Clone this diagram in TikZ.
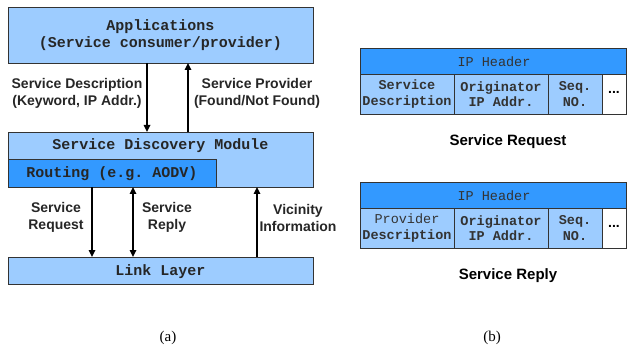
\documentclass[tikz,border=0pt]{standalone}
\usepackage{fontspec}
\setmainfont{Liberation Serif}
\setsansfont{Liberation Sans}
\setmonofont{Liberation Mono}
\usetikzlibrary{arrows.meta}
\definecolor{lightb}{HTML}{9DCCFF}
\definecolor{darkb}{HTML}{3399FF}
\definecolor{bordr}{HTML}{333333}
\tikzset{
  layerbox/.style={draw=bordr, line width=0.9pt, fill=lightb},
  darkbox/.style={draw=bordr, line width=0.9pt, fill=darkb},
  cell/.style={draw=bordr, line width=0.9pt, fill=lightb},
  monobig/.style={font=\fontsize{15}{17}\selectfont\ttfamily\bfseries, text=black!85},
  monosmall/.style={font=\fontsize{13.5}{15.5}\selectfont\ttfamily, text=black!80, align=center},
  lbl/.style={font=\fontsize{14}{17}\selectfont\sffamily\bfseries, text=black!85, align=center},
  captxt/.style={font=\fontsize{15}{17}\selectfont\sffamily\bfseries, text=black},
  arr/.style={line width=1.6pt, -{Triangle[length=7pt,width=6.5pt]}},
  darr/.style={line width=1.6pt, {Triangle[length=7pt,width=6.5pt]}-{Triangle[length=7pt,width=6.5pt]}},
  subtxt/.style={font=\fontsize{15}{17}\selectfont\rmfamily}
}
\begin{document}
\begin{tikzpicture}[x=1pt,y=-1pt]
\useasboundingbox (0,0) rectangle (627,350);
% left part (a)
\draw[layerbox] (8,7) rectangle (313,63);
\node[monobig, align=center] (app) at (160.5,35) {Applications\\(Service consumer/provider)};
\draw[layerbox] (8,132) rectangle (313,187);
\draw[darkbox] (8,159) rectangle (216,187);
\node[monobig] (sdm) at (160.5,146) {Service Discovery Module};
\node[monobig] (rt) at (112,174) {Routing (e.g. AODV)};
\draw[layerbox] (8,257) rectangle (313,284);
\node[monobig] (ll) at (160.5,271.5) {Link Layer};

\coordinate (a1s) at (147,63);  \coordinate (a1e) at (147,132);
\coordinate (a2s) at (188,132); \coordinate (a2e) at (188,63);
\coordinate (a3s) at (92,187);  \coordinate (a3e) at (92,257);
\coordinate (a4s) at (133,187); \coordinate (a4e) at (133,257);
\coordinate (a5s) at (257,257); \coordinate (a5e) at (257,187);
\draw[arr] (a1s) -- (a1e);
\draw[arr] (a2s) -- (a2e);
\draw[arr] (a3s) -- (a3e);
\draw[darr] (a4s) -- (a4e);
\draw[arr] (a5s) -- (a5e);

\node[lbl] (l1) at (77,93.5) {Service Description\\(Keyword, IP Addr.)};
\node[lbl] (l2) at (257,93.5) {Service Provider\\(Found/Not Found)};
\node[lbl] (l3) at (56,217.5) {Service\\Request};
\node[lbl] (l4) at (167,217.5) {Service\\Reply};
\node[lbl] (l5) at (298,217.5) {Vicinity\\Information};

% right part (b) - request
\draw[darkbox] (360,48) rectangle (626,74);
\node[monosmall] (h1) at (494,62) {IP Header};
\draw[cell] (360,74) rectangle (454,114);
\draw[cell] (454,74) rectangle (548,114);
\draw[cell] (548,74) rectangle (602,114);
\draw[draw=bordr, line width=0.9pt, fill=white] (602,74) rectangle (626,114);
\node[monosmall] (c11) at (407,94) {\textbf{Service}\\\textbf{Description}};
\node[monosmall] (c12) at (501,94) {\textbf{Originator}\\\textbf{IP Addr.}};
\node[monosmall] (c13) at (575,94) {\textbf{Seq.}\\\textbf{NO.}};
\node[font=\fontsize{14}{16}\selectfont\sffamily\bfseries] (c14) at (614,92) {...};
\node[captxt] (t1) at (508,142) {Service Request};

% right part (b) - reply
\draw[darkbox] (360,182) rectangle (626,208);
\node[monosmall] (h2) at (494,196) {IP Header};
\draw[cell] (360,208) rectangle (454,248);
\draw[cell] (454,208) rectangle (548,248);
\draw[cell] (548,208) rectangle (602,248);
\draw[draw=bordr, line width=0.9pt, fill=white] (602,208) rectangle (626,248);
\node[monosmall] (c21) at (407,228) {Provider\\\textbf{Description}};
\node[monosmall] (c22) at (501,228) {\textbf{Originator}\\\textbf{IP Addr.}};
\node[monosmall] (c23) at (575,228) {\textbf{Seq.}\\\textbf{NO.}};
\node[font=\fontsize{14}{16}\selectfont\sffamily\bfseries] (c24) at (614,226) {...};
\node[captxt] (t2) at (508,276) {Service Reply};

\node[subtxt] (sa) at (168,338) {(a)};
\node[subtxt] (sb) at (492,338) {(b)};
\end{tikzpicture}
\end{document}
